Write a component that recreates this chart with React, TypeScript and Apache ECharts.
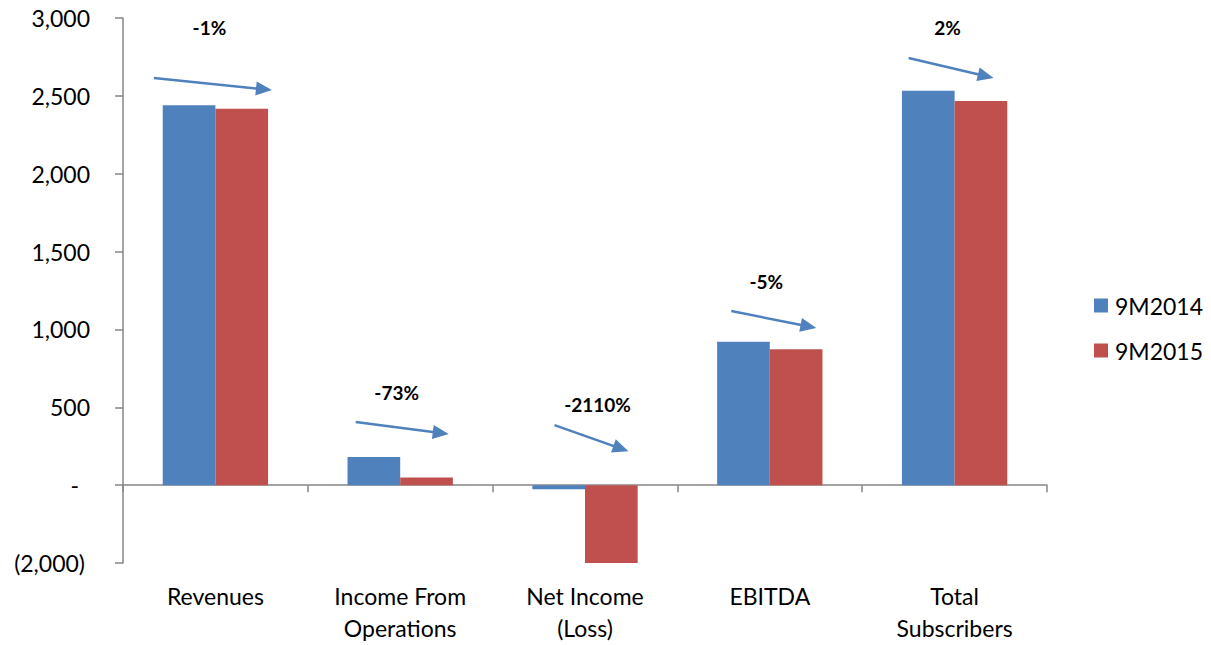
import React, { useEffect, useRef } from "react";
import * as echarts from "echarts";

const categories = ["Revenues", "Income From\nOperations", "Net Income\n(Loss)", "EBITDA", "Total\nSubscribers"];
// values in axis units (the lower part of the original axis is broken: the -500 position is labelled "(2,000)")
const series2014 = [2439, 180, -26, 921, 2533];
const series2015 = [2417, 49, -512, 872, 2467];
const seriesNames = ["9M2014", "9M2015"];
const yTickValues = [-500, 0, 500, 1000, 1500, 2000, 2500, 3000];
const yTickLabels = ["(2,000)", "-", "500", "1,000", "1,500", "2,000", "2,500", "3,000"];
const changeLabels = ["-1%", "-73%", "-2110%", "-5%", "2%"];

// annotation placement: [dx from category centre (px), value] for label, arrow start, arrow tip
const labelPos = [[-6, 2936], [-3.5, 597], [12.5, 520], [-3.5, 1310], [-7, 2936]];
const arrowStart = [[-61.5, 2615], [-44.5, 405], [-30.5, 385], [-38.5, 1118], [-46, 2743]];
const arrowEnd = [[56.5, 2537], [48.5, 328], [43.5, 218], [46.5, 1009], [39, 2615]];

const BLUE = "#4F81BD";
const RED = "#C0504D";
const AXIS = "#868686";
const FONT = "Lato, 'Open Sans', sans-serif";

export default function App() {
  const ref = useRef<HTMLDivElement>(null);
  useEffect(() => {
    document.body.style.margin = "0";
    const chart = echarts.init(ref.current!, null, { renderer: "svg" });
    chart.setOption({
      animation: false,
      textStyle: { fontFamily: FONT },
      grid: { left: 123, right: 164, top: 18, bottom: 82, containLabel: false, outerBoundsMode: "none" },
      legend: {
        orient: "vertical",
        left: 1089,
        top: 289,
        itemWidth: 14,
        itemHeight: 14,
        itemGap: 22,
        icon: "rect",
        data: seriesNames,
        textStyle: { fontSize: 23, color: "#000", fontFamily: FONT, padding: [0, 0, 0, 2] },
      },
      xAxis: [
        {
          type: "category",
          data: categories,
          position: "bottom",
          axisLine: { show: false, onZero: false },
          axisTick: { show: false },
          axisLabel: { fontSize: 23, color: "#000", margin: 17, lineHeight: 32, fontFamily: FONT, interval: 0 },
        },
        {
          type: "category",
          data: categories,
          position: "bottom",
          axisLine: { show: true, onZero: true, lineStyle: { color: AXIS, width: 1.5 } },
          axisTick: { show: true, length: 7, lineStyle: { color: AXIS, width: 1.5 } },
          axisLabel: { show: false },
        },
      ],
      yAxis: {
        type: "value",
        min: -500,
        max: 3000,
        interval: 500,
        splitLine: { show: false },
        axisLine: { show: true, lineStyle: { color: AXIS, width: 1.5 } },
        axisTick: { show: true, length: 8, lineStyle: { color: AXIS, width: 1.5 } },
        axisLabel: {
          fontSize: 23,
          color: "#000",
          margin: 33,
          fontFamily: FONT,
          formatter: (v: number) => {
            const i = yTickValues.indexOf(v);
            const s = i >= 0 ? yTickLabels[i] : String(v);
            if (v === 0) return "{d|" + s + "}";
            if (v < 0) return "{n|" + s + "}";
            return s;
          },
          rich: {
            d: { fontSize: 23, color: "#000", fontFamily: FONT, padding: [0, 11, 0, 0] },
            n: { fontSize: 23, color: "#000", fontFamily: FONT, padding: [0, 5, 0, 0] },
          },
        },
      },
      series: [
        {
          name: seriesNames[0],
          type: "bar",
          data: series2014,
          xAxisIndex: 0,
          barGap: "0%",
          barCategoryGap: "43%",
          itemStyle: { color: BLUE },
        },
        {
          name: seriesNames[1],
          type: "bar",
          data: series2015,
          xAxisIndex: 0,
          barGap: "0%",
          barCategoryGap: "43%",
          itemStyle: { color: RED },
        },
      ],
    });

    const toPx = (i: number, p: number[]) => {
      const c = chart.convertToPixel({ xAxisIndex: 0, yAxisIndex: 0 }, [i, p[1]]) as number[];
      return [c[0] + p[0], c[1]];
    };
    const graphics: any[] = [];
    categories.forEach((_, i) => {
      const lp = toPx(i, labelPos[i]);
      graphics.push({
        type: "text",
        x: lp[0],
        y: lp[1],
        style: {
          text: changeLabels[i],
          fill: "#000",
          font: "bold 19px " + FONT,
          textAlign: "center",
          textVerticalAlign: "middle",
        },
      });
      const s = toPx(i, arrowStart[i]);
      const e = toPx(i, arrowEnd[i]);
      const dx = e[0] - s[0];
      const dy = e[1] - s[1];
      const len = Math.sqrt(dx * dx + dy * dy);
      const ux = dx / len;
      const uy = dy / len;
      const hl = 16;
      const hw = 7;
      const bx = e[0] - ux * hl;
      const by = e[1] - uy * hl;
      graphics.push({
        type: "line",
        shape: { x1: s[0], y1: s[1], x2: bx + ux * 2, y2: by + uy * 2 },
        style: { stroke: BLUE, lineWidth: 2.5 },
      });
      graphics.push({
        type: "polygon",
        shape: {
          points: [
            [e[0], e[1]],
            [bx - uy * hw, by + ux * hw],
            [bx + uy * hw, by - ux * hw],
          ],
        },
        style: { fill: BLUE },
      });
    });
    chart.setOption({ graphic: graphics });
    return () => chart.dispose();
  }, []);
  return <div ref={ref} style={{ width: 1211, height: 645 }} />;
}
